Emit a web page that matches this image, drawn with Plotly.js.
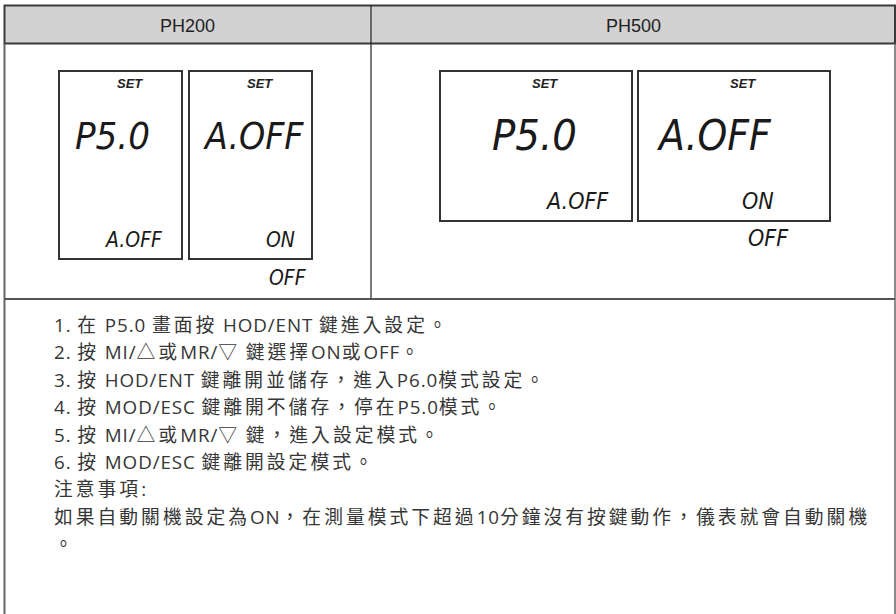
<!DOCTYPE html>
<html><head><meta charset="utf-8">
<script src="https://cdn.plot.ly/plotly-3.0.1.min.js"></script>
<style>html,body{margin:0;padding:0;background:#fff;}#chart{width:896px;height:614px;}</style>
</head><body><div id="chart"></div>
<script>
// ---- content ----
const models = ["PH200", "PH500"];
const setLabel = "SET";
const lcdMain = ["P5.0", "A.OFF"];
const lcdSub = ["A.OFF", "ON"];
const lcdAlt = ["", "OFF"];
const steps = [
  "1. 在 P5.0 畫面按 HOD/ENT 鍵進入設定。",
  "2. 按 MI/△或MR/▽ 鍵選擇ON或OFF。",
  "3. 按 HOD/ENT 鍵離開並儲存，進入P6.0模式設定。",
  "4. 按 MOD/ESC 鍵離開不儲存，停在P5.0模式。",
  "5. 按 MI/△或MR/▽ 鍵，進入設定模式。",
  "6. 按 MOD/ESC 鍵離開設定模式。"
];
const noteTitle = "注意事項:";
const noteLines = ["如果自動關機設定為ON，在測量模式下超過10分鐘沒有按鍵動作，儀表就會自動關機", "。"];

// ---- layout geometry ----
const W = 896, H = 614;
const tbl = {l: 4.5, r: 895, t: 5.5, hb: 43.5, mid: 299, col: 371};
const panels = [
  {boxes: [[59, 182], [189, 312]], top: 71, bot: 259, setY: 83, mainY: 136, subY: 240, altY: 278,
   mainX: [112, 253], subRight: [165, 297], altRight: 309, mainSizes: [38, 37], subSize: 21},
  {boxes: [[440, 632], [638, 830]], top: 71, bot: 221, setY: 83, mainY: 135, subY: 201, altY: 238,
   mainX: [534, 714], subRight: [611, 776], altRight: 791, mainSizes: [43, 42], subSize: 23}
];
const lcdFont = "'Liberation Sans Narrow', 'DejaVu Sans Condensed', sans-serif";
const bodyFont = "'Open Sans', 'Noto Sans CJK TC', 'Noto Sans CJK SC', sans-serif";
const textColor = "#363636";
const lineColor = "#555555";
const cjkTrack = 3.0, latinTrack = 0.9;

const shapes = [];
const annotations = [];

// header background
shapes.push({type: "rect", x0: tbl.l, x1: tbl.r, y0: tbl.t, y1: tbl.hb, fillcolor: "#d2d2d2",
  line: {color: "#3a3a3a", width: 2}, layer: "below"});
// outer verticals down to bottom
shapes.push({type: "line", x0: tbl.l, x1: tbl.l, y0: tbl.hb, y1: H + 5, line: {color: "#666", width: 2}});
shapes.push({type: "line", x0: tbl.r, x1: tbl.r, y0: tbl.hb, y1: H + 5, line: {color: "#666", width: 1.5}});
// column divider
shapes.push({type: "line", x0: tbl.col, x1: tbl.col, y0: tbl.t, y1: tbl.mid, line: {color: "#222", width: 1.2}});
// middle horizontal
shapes.push({type: "line", x0: tbl.l, x1: tbl.r, y0: tbl.mid, y1: tbl.mid, line: {color: lineColor, width: 2}});

// headers
const headerX = [(tbl.l + tbl.col) / 2, (tbl.col + tbl.r) / 2];
models.forEach((m, i) => {
  annotations.push({x: headerX[i], y: (tbl.t + tbl.hb) / 2 + 1, text: m, showarrow: false,
    xanchor: "center", yanchor: "middle",
    font: {family: "'Liberation Sans', Arial, sans-serif", size: 18, color: "#222"}});
});

// LCD panels
panels.forEach((p, pi) => {
  p.boxes.forEach((b, bi) => {
    shapes.push({type: "rect", x0: b[0], x1: b[1], y0: p.top, y1: p.bot,
      line: {color: "#333", width: 2}, fillcolor: "rgba(0,0,0,0)"});
    annotations.push({x: (b[0] + b[1]) / 2 + 9, y: p.setY, text: setLabel, showarrow: false,
      xanchor: "center", yanchor: "middle",
      font: {family: "'Liberation Sans', Arial, sans-serif", size: 13, color: "#222", weight: 700, style: "italic"}});
    annotations.push({x: p.mainX[bi], y: p.mainY, text: lcdMain[bi], showarrow: false,
      xanchor: "center", yanchor: "middle",
      font: {family: lcdFont, size: p.mainSizes[bi], color: "#1a1a1a", style: "italic"}});
    annotations.push({x: p.subRight[bi], y: p.subY, text: lcdSub[bi], showarrow: false,
      xanchor: "right", yanchor: "middle",
      font: {family: lcdFont, size: p.subSize, color: "#1a1a1a", style: "italic"}});
    if (lcdAlt[bi]) {
      annotations.push({x: p.altRight, y: p.altY, text: lcdAlt[bi], showarrow: false,
        xanchor: "right", yanchor: "middle",
        font: {family: lcdFont, size: p.subSize, color: "#1a1a1a", style: "italic"}});
    }
  });
});

// tracking: full-width glyph runs get wider spacing than Latin runs
const wideRe = /[\u2E80-\u9FFF\uF900-\uFAFF\uFF00-\uFFEF\u3000-\u303F\u25B3\u25BD]/;
function tracked(s) {
  let out = "", run = "", runWide = null;
  const flush = () => {
    if (run) out += '<span style="letter-spacing:' + (runWide ? cjkTrack : latinTrack) + 'px">' + run + '</span>';
    run = "";
  };
  for (const ch of s) {
    const w = wideRe.test(ch);
    if (runWide !== null && w !== runWide) flush();
    runWide = w; run += ch;
  }
  flush();
  return out;
}

// instruction text, one left-aligned annotation per line
const allLines = steps.concat([noteTitle], noteLines);
const textX = 52, firstLineY = 325, lineGap = 27.4;
allLines.forEach((t, i) => {
  annotations.push({x: textX, y: firstLineY + i * lineGap, text: tracked(t), showarrow: false,
    xanchor: "left", yanchor: "middle", align: "left",
    font: {family: bodyFont, size: 18.8, color: textColor}});
});

const layout = {
  width: W, height: H, margin: {l: 0, r: 0, t: 0, b: 0},
  paper_bgcolor: "#fff", plot_bgcolor: "#fff",
  xaxis: {range: [0, W], visible: false, fixedrange: true},
  yaxis: {range: [H, 0], visible: false, fixedrange: true},
  shapes: shapes, annotations: annotations, showlegend: false
};
Plotly.newPlot("chart", [], layout, {staticPlot: true, displayModeBar: false});
</script></body></html>
